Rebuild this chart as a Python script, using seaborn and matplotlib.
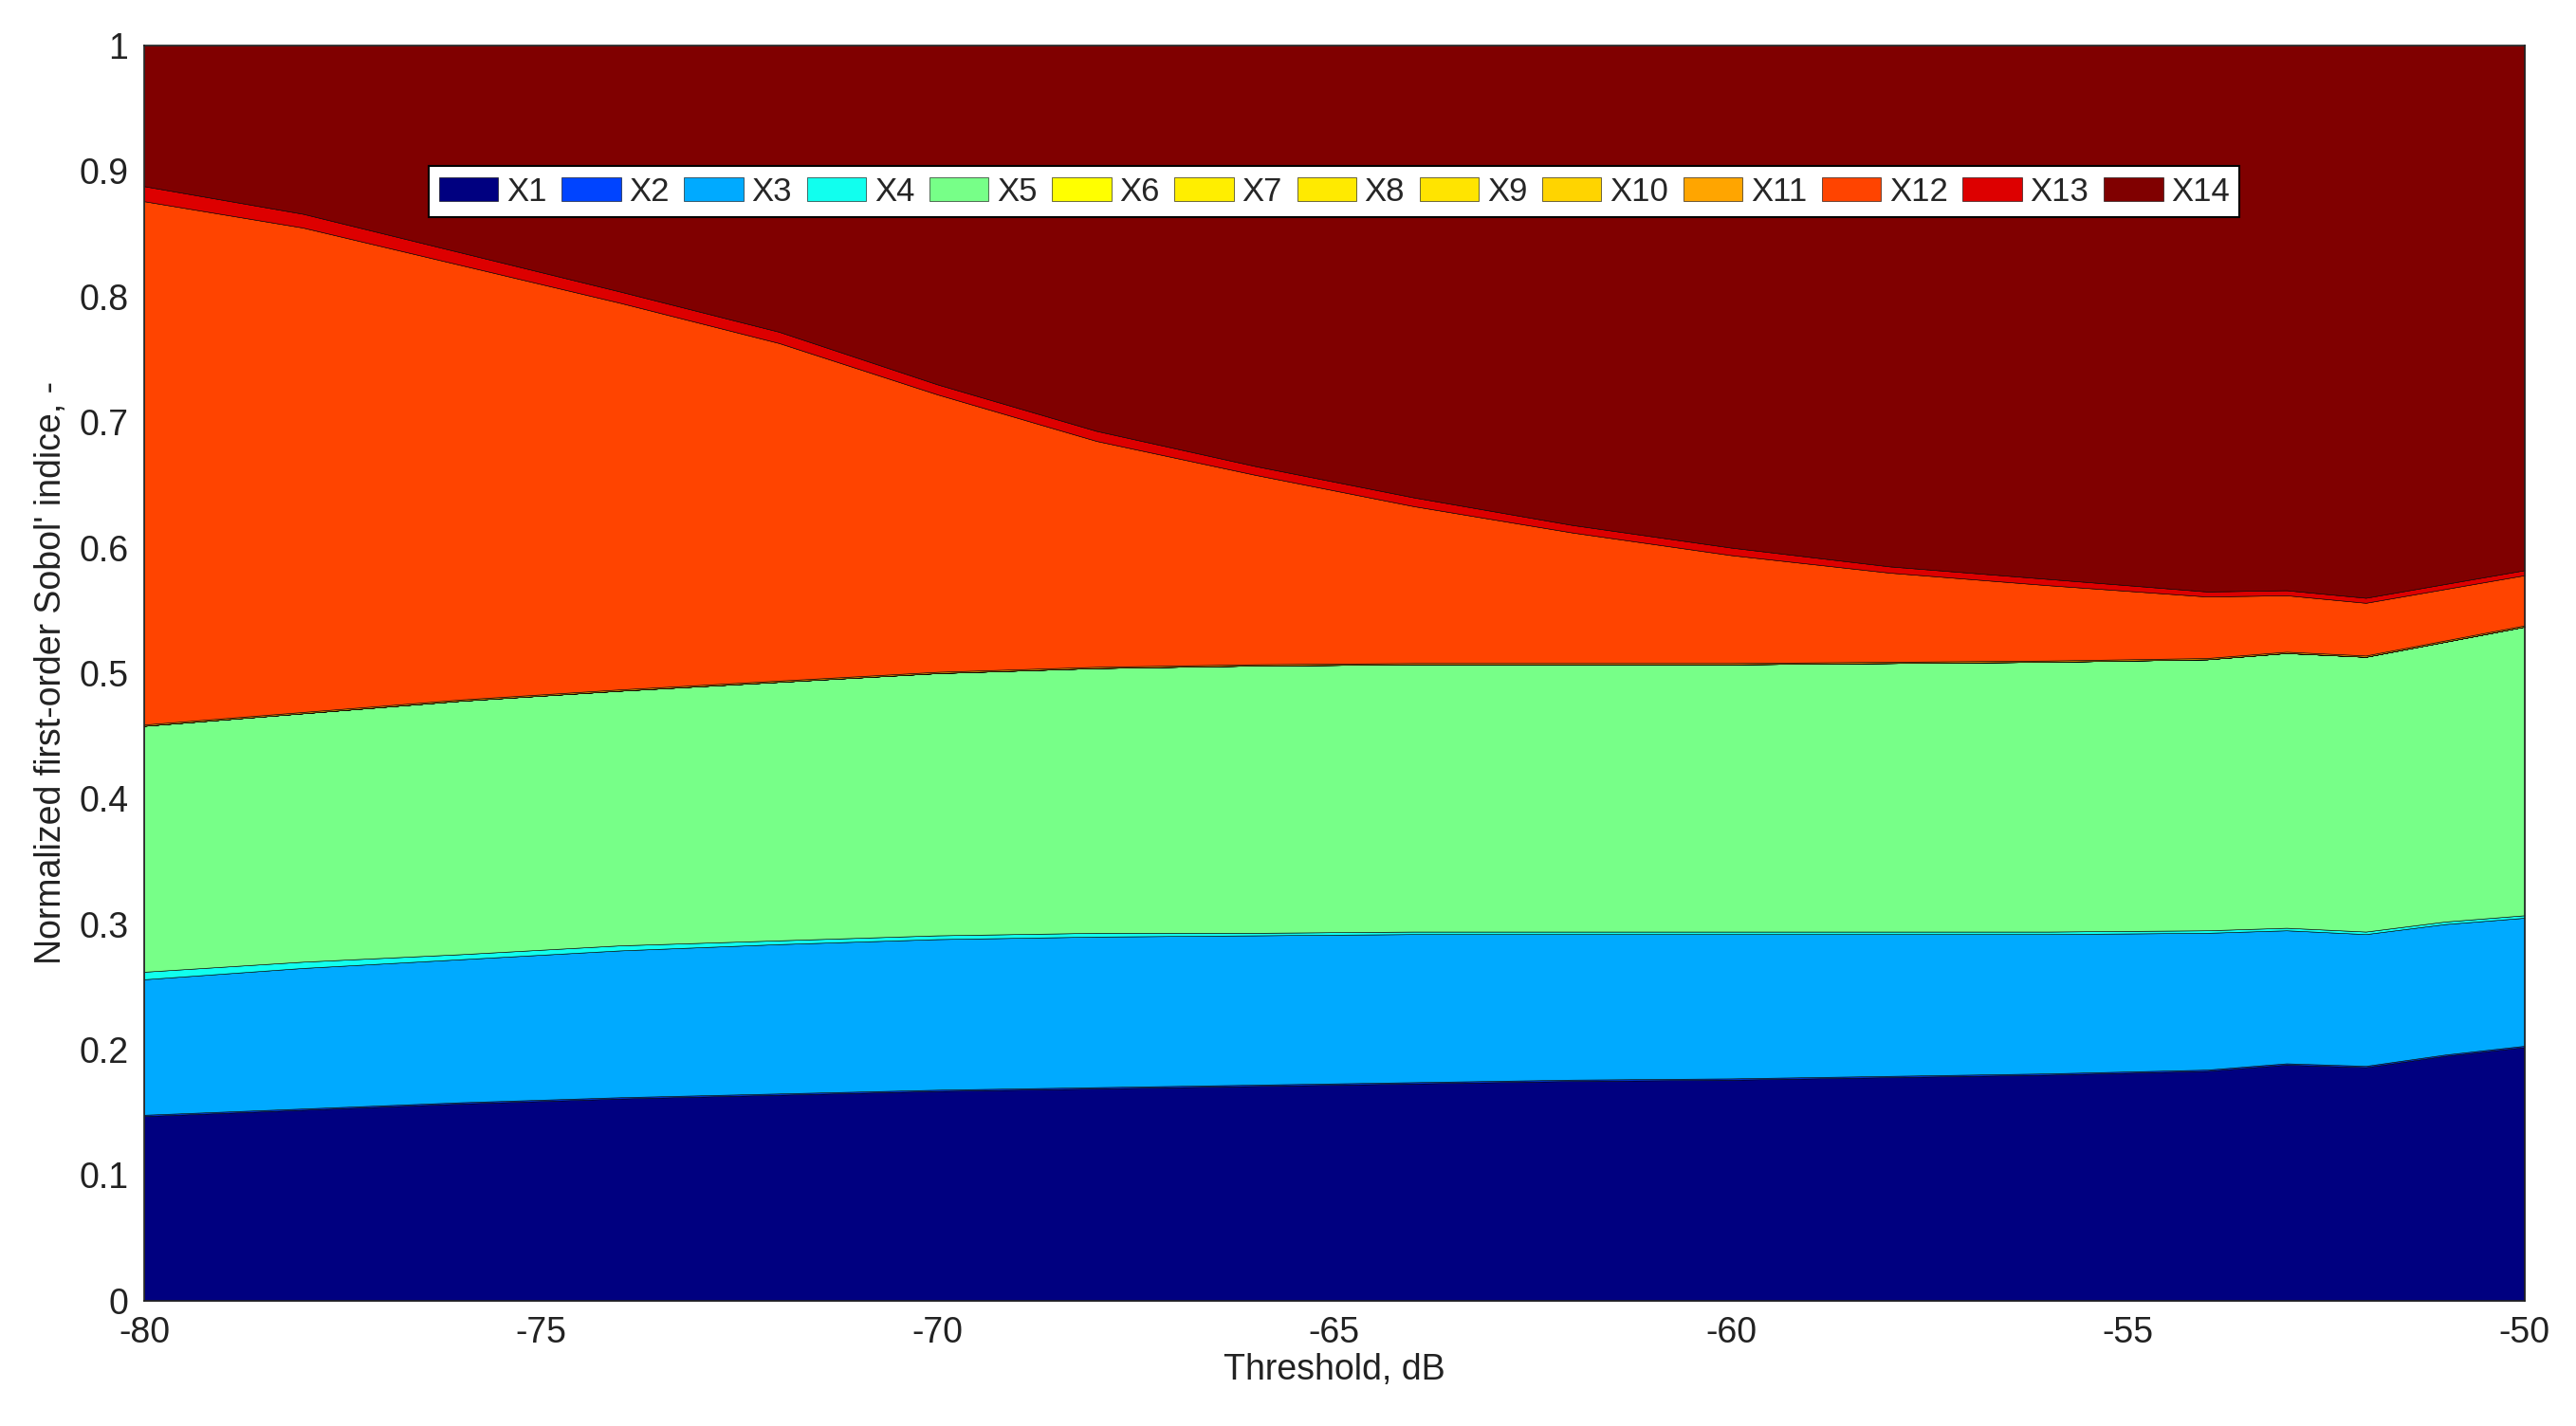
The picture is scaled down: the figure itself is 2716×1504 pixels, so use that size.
import matplotlib
matplotlib.use("Agg")
import matplotlib.pyplot as plt
import seaborn as sns

sns.set_theme(style="white")
plt.rcParams['font.family'] = ['Liberation Sans', 'DejaVu Sans']
plt.rcParams['axes.unicode_minus'] = False

threshold = [-80, -78, -76, -74, -72, -70, -68, -66, -64, -62, -60, -58, -56, -54, -53, -52, -51, -50]

X1 = [.147, .152, .157, .161, .164, .167, .169, .171, .173, .175, .176, .178, .180, .183, .188, .186, .195, .202]
X2 = [.001] * 18
X3 = [.108, .112, .114, .117, .119, .120, .120, .119, .118, .116, .115, .113, .111, .109, .106, .105, .104, .102]
X4 = [.006, .005, .004, .004, .003, .003, .003, .002, .002, .002, .002, .002, .002, .002, .002, .002, .002, .002]
X5 = [.196, .198, .202, .203, .206, .209, .211, .213, .213, .213, .213, .214, .215, .216, .219, .219, .223, .230]
X6 = [0.0] * 18
X7 = [0.0] * 18
X8 = [0.0] * 18
X9 = [0.0] * 18
X10 = [0.0] * 18
X11 = [.001] * 18
X12 = [.417, .386, .346, .308, .269, .221, .180, .151, .125, .104, .086, .071, .060, .049, .045, .042, .041, .040]
X13 = [.012, .011, .010, .009, .009, .008, .008, .007, .007, .006, .006, .005, .005, .004, .004, .004, .004, .004]
X14 = [.112, .134, .165, .196, .228, .270, .307, .335, .360, .382, .400, .415, .425, .435, .434, .440, .429, .418]

series = [X1, X2, X3, X4, X5, X6, X7, X8, X9, X10, X11, X12, X13, X14]
labels = ['X%d' % i for i in range(1, 15)]
colors = ['#000080', '#0044ff', '#00aaff', '#11ffee', '#77ff88', '#ffff00', '#ffee00',
          '#ffea00', '#ffe400', '#ffd400', '#ffa500', '#ff4400', '#dd0000', '#800000']

fig = plt.figure(figsize=(27.16, 15.04), dpi=100)
ax = fig.add_axes([0.056, 0.088, 0.924, 0.880])
ax.stackplot(threshold, *series, labels=labels, colors=colors,
             edgecolor='black', linewidth=0.4)

ax.set_xlim(-80, -50)
ax.set_ylim(0, 1)
ax.set_xticks(range(-80, -49, 5))
ax.set_yticks([i / 10 for i in range(11)])
ax.set_yticklabels(['0', '0.1', '0.2', '0.3', '0.4', '0.5', '0.6', '0.7', '0.8', '0.9', '1'])
ax.tick_params(labelsize=27, direction='in', length=8, pad=12, colors='#222222')
for s in ax.spines.values():
    s.set_color('#222222')
    s.set_linewidth(1.2)
ax.set_xlabel('Threshold, dB', fontsize=27, color='#222222', labelpad=2)
ax.set_ylabel("Normalized first-order Sobol' indice, -", fontsize=27, color='#222222', labelpad=8)

leg = ax.legend(loc='upper center', bbox_to_anchor=(0.5, 0.917), ncol=14, fontsize=25,
                frameon=True, fancybox=False, edgecolor='black', framealpha=1,
                handlelength=1.8, handletextpad=0.25, columnspacing=0.45, borderpad=0.3)
leg.get_frame().set_linewidth(1.5)

fig.savefig('out.png', dpi=100, facecolor='white')
